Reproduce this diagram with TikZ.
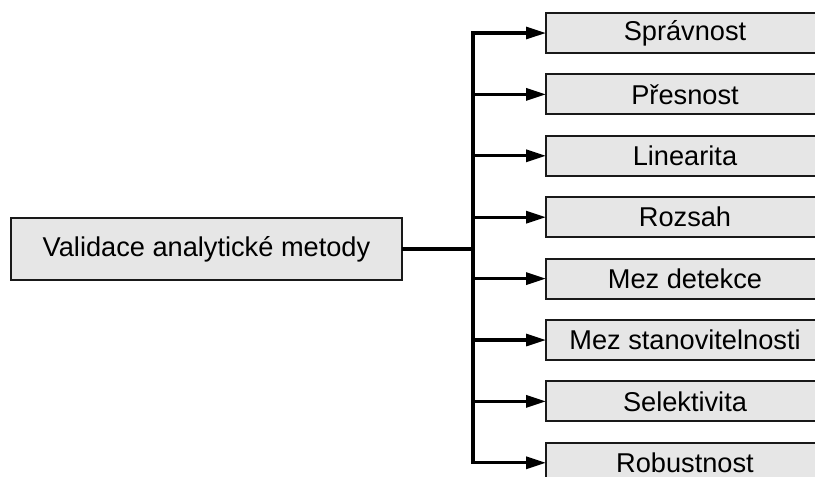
\documentclass[tikz,border=0pt]{standalone}
\usepackage{fontspec}
\setmainfont{Liberation Sans}
\usetikzlibrary{arrows.meta, positioning, calc}
\definecolor{cBoxFill}{RGB}{230, 230, 230}
\definecolor{cBoxDraw}{RGB}{25, 25, 25}
\definecolor{lineColor}{RGB}{0, 0, 0}
\tikzset{
    node distance=21.4pt and 1.0cm,
    font=\fontsize{27.2}{32}\selectfont,
    % --- box styles ---
    baseBlock/.style={
        rectangle, draw=cBoxDraw, fill=cBoxFill, line width=2pt,
        inner sep=0pt, outer sep=0pt, align=center
    },
    styleRoot/.style={baseBlock, minimum width=391pt, minimum height=62pt},
    styleItem/.style={baseBlock, minimum width=278pt, minimum height=40pt},
    % --- connector styles ---
    conn/.style={
        draw=lineColor, line width=3.2pt, line join=miter,
        -{Triangle[length=20pt, width=12pt]}
    },
    connPlain/.style={
        draw=lineColor, line width=3.2pt
    }
}
\begin{document}
\begin{tikzpicture}

    % =========================================================
    % canvas
    % =========================================================
    \useasboundingbox (0,0) rectangle (815pt,-477pt);
    \clip (0,0) rectangle (815pt,-477pt);

    % =========================================================
    % nodes
    % =========================================================

    % root
    \node [styleRoot] (validace) at (206.5pt,-249pt) {Validace analytické metody};

    % criteria
    \node [styleItem] (spravnost) at (685pt,-33pt) {Správnost};
    \node [styleItem, below=of spravnost] (presnost) {Přesnost};
    \node [styleItem, below=of presnost] (linearita) {Linearita};
    \node [styleItem, below=of linearita] (rozsah) {Rozsah};
    \node [styleItem, below=of rozsah] (detekce) {Mez detekce};
    \node [styleItem, below=of detekce] (stanovitelnost) {Mez stanovitelnosti};
    \node [styleItem, below=of stanovitelnost] (selektivita) {Selektivita};
    \node [styleItem, below=of selektivita] (robustnost) {Robustnost};

    % =========================================================
    % connectors
    % =========================================================
    \coordinate (trunk) at ($(validace.east)+(71pt,0)$);
    \draw [connPlain] (validace.east) -- (trunk);

    \draw [conn] (trunk) |- (spravnost.west);
    \draw [conn] (trunk) |- (presnost.west);
    \draw [conn] (trunk) |- (linearita.west);
    \draw [conn] (trunk) |- (rozsah.west);
    \draw [conn] (trunk) |- (detekce.west);
    \draw [conn] (trunk) |- (stanovitelnost.west);
    \draw [conn] (trunk) |- (selektivita.west);
    \draw [conn] (trunk) |- (robustnost.west);

\end{tikzpicture}
\end{document}
